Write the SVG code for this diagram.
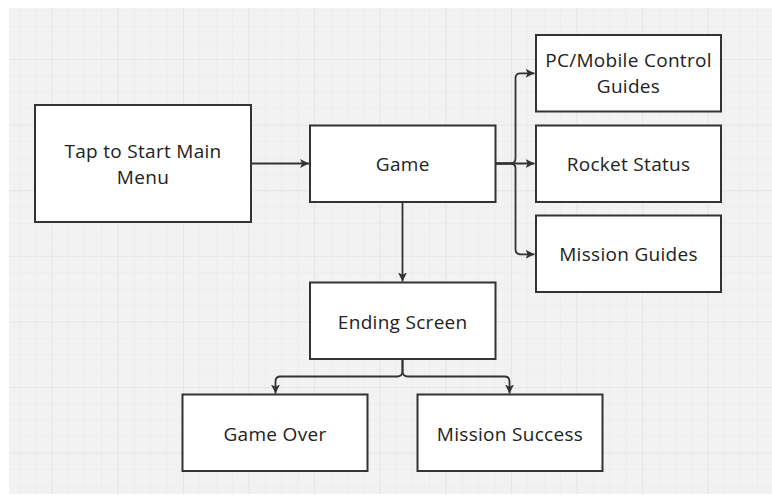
<svg xmlns="http://www.w3.org/2000/svg" width="772" height="495" viewBox="0 0 772 495">
<defs>
<pattern id="minor" patternUnits="userSpaceOnUse" x="2.5" y="9.8" width="16.4" height="16.4">
<path d="M0,0 H16.4 M0,0 V16.4" fill="none" stroke="#e8e8e8" stroke-width="1"/>
</pattern>
<pattern id="major" patternUnits="userSpaceOnUse" x="51.7" y="59" width="65.6" height="65.6">
<path d="M0,0 H65.6 M0,0 V65.6" fill="none" stroke="#e0e0e0" stroke-width="1.2"/>
</pattern>
<marker id="arr" viewBox="0 0 10 10" refX="10" refY="5" markerWidth="9" markerHeight="10" markerUnits="userSpaceOnUse" orient="auto">
<path d="M0,0 L10,5 L0,10 L2.5,5 Z" fill="#333"/>
</marker>
<style>
.box{fill:#fff;stroke:#333;stroke-width:2}
.t{font-family:"Open Sans","Noto Sans",sans-serif;font-size:19px;letter-spacing:0.3px;fill:#222;text-anchor:middle}
.c{fill:none;stroke:#333;stroke-width:1.8;marker-end:url(#arr)}
</style>
</defs>
<rect x="0" y="0" width="772" height="495" fill="#fff"/>
<rect x="9" y="8" width="763" height="486" fill="#f2f2f2"/>
<rect x="9" y="8" width="763" height="486" fill="url(#minor)"/>
<rect x="9" y="8" width="763" height="486" fill="url(#major)"/>

<g id="connectors">
<path class="c" d="M251.5,163.5 H309"/>
<path class="c" d="M495.5,163.5 H534.5"/>
<path class="c" d="M495.5,163.5 H510.5 Q515.5,163.5 515.5,158.5 V78.3 Q515.5,73.3 520.5,73.3 H534.5"/>
<path class="c" d="M495.5,163.5 H510.5 Q515.5,163.5 515.5,168.5 V249.3 Q515.5,254.3 520.5,254.3 H534.5"/>
<path class="c" d="M402.5,202 V281.5"/>
<path class="c" d="M402.5,359 V371 Q402.5,376.5 397,376.5 H280.5 Q275.5,376.5 275.5,381.5 V393.5"/>
<path class="c" d="M402.5,359 V371 Q402.5,376.5 408,376.5 H504.5 Q509.5,376.5 509.5,381.5 V393.5"/>
</g>

<g id="tap"><rect class="box" x="35" y="105" width="216" height="117"/>
<text class="t" x="143" y="158.3">Tap to Start Main</text><text class="t" x="143" y="184">Menu</text></g>
<g id="game"><rect class="box" x="310" y="125.5" width="185.5" height="76.5"/>
<text class="t" x="402.7" y="171">Game</text></g>
<g id="pc"><rect class="box" x="536" y="35" width="185" height="76.5"/>
<text class="t" x="628.5" y="66.7">PC/Mobile Control</text><text class="t" x="628.5" y="93.3">Guides</text></g>
<g id="rocket"><rect class="box" x="536" y="125.5" width="185" height="76.5"/>
<text class="t" x="628.5" y="171">Rocket Status</text></g>
<g id="missionguides"><rect class="box" x="536" y="215.5" width="185" height="76.5"/>
<text class="t" x="628.5" y="261">Mission Guides</text></g>
<g id="ending"><rect class="box" x="310" y="282.5" width="185.5" height="76.5"/>
<text class="t" x="402.7" y="328.5">Ending Screen</text></g>
<g id="gameover"><rect class="box" x="182.5" y="394.5" width="185" height="76.5"/>
<text class="t" x="275" y="441">Game Over</text></g>
<g id="success"><rect class="box" x="417.5" y="394.5" width="185" height="76.5"/>
<text class="t" x="510" y="441">Mission Success</text></g>
</svg>
